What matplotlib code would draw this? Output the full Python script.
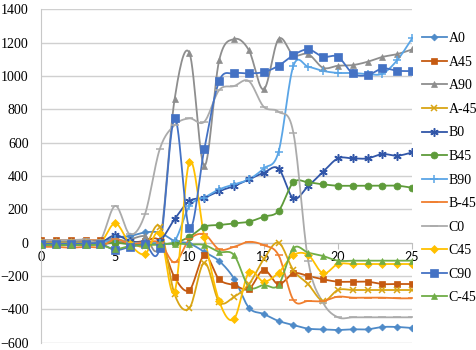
import numpy as np
import matplotlib
matplotlib.use("Agg")
import matplotlib.pyplot as plt

# === Data ===
x = list(range(26))

A0 = [5, 5, 5, 5, 5, 30, 40, 62, 60, 10, -5, -55, -110, -215, -390, -428, -470, -494, -516, -520, -524, -520, -520, -506, -506, -512]
A45 = [15, 15, 15, 15, 15, 10, 0, 10, 10, -208, -284, -76, -220, -254, -278, -164, -250, -184, -200, -220, -234, -234, -234, -248, -248, -248]
A90 = [10, 10, 10, 10, 10, 5, 20, 40, 0, 862, 1138, 461, 1094, 1222, 1156, 920, 1222, 1126, 1132, 1050, 1062, 1066, 1086, 1115, 1132, 1160]
A_45 = [0, 0, 0, 0, 0, 20, 0, -20, 95, -310, -392, -120, -354, -325, -250, -100, 0, -165, -250, -350, -284, -284, -284, -284, -284, -284]
B0 = [0, 0, 0, 0, 0, 45, 10, 0, 10, 142, 250, 270, 310, 340, 380, 420, 445, 266, 340, 425, 506, 506, 506, 532, 522, 542]
B45 = [-10, -10, -10, -10, -10, 0, -10, -10, -10, 0, 35, 96, 106, 116, 126, 156, 190, 362, 362, 350, 342, 342, 342, 342, 342, 330]
B90 = [0, 0, 0, 0, 0, 20, 0, 0, 0, 10, 220, 270, 320, 350, 380, 446, 545, 1061, 1056, 1031, 1019, 1019, 1012, 1015, 1096, 1226]
B_45 = [-25, -25, -30, -25, -25, 20, -5, 0, 0, -118, 20, 50, -40, -25, 5, -15, -75, -344, -350, -350, -324, -330, -330, -330, -334, -334]
C0 = [15, 15, 15, 20, 15, 221, 50, 170, 562, 706, 746, 726, 916, 940, 970, 816, 786, 660, -110, -360, -448, -448, -448, -448, -448, -448]
C45 = [0, 0, 0, 0, 0, 116, -10, -68, 60, -294, 485, 35, -350, -458, -178, -234, -180, -74, -74, -184, -128, -128, -128, -128, -128, -128]
C90 = [-5, -5, -5, -5, -5, -44, -25, -10, -30, 746, 86, 562, 970, 1016, 1016, 1024, 1062, 1126, 1160, 1116, 1116, 1016, 1006, 1046, 1032, 1030]
C_45 = [-15, -15, -15, -15, -15, -38, -20, -15, -10, -5, -10, -14, -55, -74, -264, -254, -254, -34, -60, -80, -108, -108, -108, -108, -108, -108]

labels = ["A0", "A45", "A90", "A-45", "B0", "B45", "B90", "B-45", "C0", "C45", "C90", "C-45"]
series = [A0, A45, A90, A_45, B0, B45, B90, B_45, C0, C45, C90, C_45]

colors = ["#4E8AC8", "#C55A11", "#8E8E8E", "#D9A514", "#3156A8", "#5E9B3A",
          "#5AA5E6", "#F07E2E", "#ABABAB", "#FFC000", "#4472C4", "#70AD47"]
markers = ["D", "s", "^", "x", (6, 2, 0), "o", "+", "_", "_", "D", "s", "^"]
msizes = [3.5, 5, 5, 5, 6, 5, 6, 6, 6, 4.5, 6, 5]


# Excel-like smoothed line (cubic bezier through the points)
def smooth(xs, ys, n=16):
    p = np.column_stack([xs, ys]).astype(float)
    out = []
    for i in range(len(p) - 1):
        p0 = p[i - 1] if i > 0 else p[i]
        p1 = p[i]
        p2 = p[i + 1]
        p3 = p[i + 2] if i + 2 < len(p) else p[i + 1]
        c1 = p1 + (p2 - p0) / 6.0
        c2 = p2 - (p3 - p1) / 6.0
        t = np.linspace(0, 1, n)[:, None]
        seg = ((1 - t) ** 3) * p1 + 3 * ((1 - t) ** 2) * t * c1 + 3 * (1 - t) * t ** 2 * c2 + t ** 3 * p2
        out.append(seg if i == 0 else seg[1:])
    s = np.vstack(out)
    return s[:, 0], s[:, 1]


fig = plt.figure(figsize=(4.77, 3.5), dpi=100)
ax = fig.add_axes([0.086, 0.021, 0.778, 0.952])

handles = []
for lab, ys, c, m, ms in zip(labels, series, colors, markers, msizes):
    mew = 1.1 if m in ("x", "+", "_", (6, 2, 0)) else 0.5
    sx, sy = smooth(x, ys)
    ax.plot(sx, sy, color=c, lw=1.3, zorder=3)
    ax.plot(x, ys, linestyle="none", marker=m, color=c, markersize=ms,
            markeredgewidth=mew, zorder=4)
    h, = ax.plot([], [], color=c, lw=1.3, marker=m, markersize=ms, markeredgewidth=mew)
    handles.append(h)

ax.set_xlim(0, 25)
ax.set_ylim(-600, 1400)
ax.set_yticks(range(-600, 1401, 200))
ax.set_xticks(range(0, 26, 5))

ax.yaxis.grid(True, color="#D0D0D0", lw=1.0)
ax.set_axisbelow(True)

for s in ["top", "right"]:
    ax.spines[s].set_visible(False)
ax.spines["left"].set_color("#C8C8C8")
ax.spines["bottom"].set_position(("data", 0))
ax.spines["bottom"].set_color("#BFBFBF")
ax.spines["bottom"].set_zorder(2)

ax.tick_params(axis="y", length=0, pad=9)
ax.tick_params(axis="x", length=4, color="#BFBFBF", pad=2)
for t in ax.get_yticklabels():
    t.set_fontfamily("Liberation Serif")
    t.set_fontsize(10)
for t in ax.get_xticklabels():
    t.set_fontfamily("Lato")
    t.set_fontsize(9)

leg = fig.legend(handles, labels, loc="upper left", bbox_to_anchor=(0.884, 0.908),
                 frameon=False, handlelength=1.8, handletextpad=0.15,
                 labelspacing=0.76, borderpad=0, borderaxespad=0,
                 prop={"family": "Liberation Serif", "size": 10})

fig.savefig("out.png", dpi=100)
